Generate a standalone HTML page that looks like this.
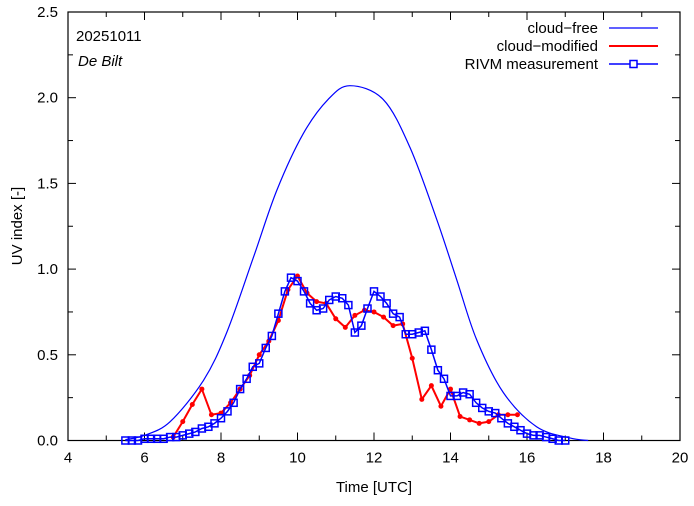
<!DOCTYPE html>
<html><head><meta charset="utf-8"><style>
body{margin:0;background:#fff;position:relative;}
svg text{font-family:"Liberation Sans",sans-serif;font-size:15px;fill:#000;}
</style></head><body>
<svg id="chart" width="694" height="501" xmlns="http://www.w3.org/2000/svg"></svg>
<script>
const measTimes=[5.5,5.67,5.83,6.0,6.17,6.33,6.5,6.67,6.83,7.0,7.17,7.33,7.5,7.67,7.83,8.0,8.17,8.33,8.5,8.67,8.83,9.0,9.17,9.33,9.5,9.67,9.83,10.0,10.17,10.33,10.5,10.67,10.83,11.0,11.17,11.33,11.5,11.67,11.83,12.0,12.17,12.33,12.5,12.67,12.83,13.0,13.17,13.33,13.5,13.67,13.83,14.0,14.17,14.33,14.5,14.67,14.83,15.0,15.17,15.33,15.5,15.67,15.83,16.0,16.17,16.33,16.5,16.67,16.83,17.0];
const measValues=[0,0,0,0.01,0.01,0.01,0.01,0.02,0.02,0.03,0.04,0.05,0.07,0.08,0.10,0.13,0.17,0.22,0.30,0.36,0.43,0.45,0.54,0.61,0.74,0.87,0.95,0.93,0.87,0.80,0.76,0.77,0.82,0.84,0.83,0.79,0.63,0.67,0.77,0.87,0.84,0.80,0.74,0.72,0.62,0.62,0.63,0.64,0.53,0.41,0.36,0.26,0.26,0.28,0.27,0.22,0.19,0.17,0.16,0.13,0.10,0.08,0.06,0.04,0.03,0.03,0.02,0.01,0.0,0.0];
const cloudTimes=[6.75,7.0,7.25,7.5,7.75,8.0,8.25,8.5,8.75,9.0,9.25,9.5,9.75,10.0,10.25,10.5,10.75,11.0,11.25,11.5,11.75,12.0,12.25,12.5,12.75,13.0,13.25,13.5,13.75,14.0,14.25,14.5,14.75,15.0,15.25,15.5,15.75];
const cloudValues=[0.02,0.11,0.21,0.30,0.15,0.16,0.22,0.30,0.38,0.50,0.58,0.70,0.88,0.96,0.86,0.81,0.80,0.71,0.66,0.73,0.76,0.75,0.72,0.67,0.68,0.48,0.24,0.32,0.20,0.30,0.14,0.12,0.10,0.11,0.15,0.15,0.15];
const clearTimes=[5.5,6.0,6.67,7.54,8.15,8.85,9.46,10.15,10.8,11.37,12.24,12.94,13.64,14.16,14.68,15.38,16.25,17.12,17.6];
const clearValues=[0.005,0.03,0.11,0.35,0.63,1.07,1.46,1.79,1.99,2.07,1.99,1.71,1.29,0.94,0.59,0.28,0.08,0.015,0];
const xTicks=[4,6,8,10,12,14,16,18,20];
const yTicks=[0,0.5,1.0,1.5,2.0,2.5];
const L=68,R=680,T=12,B=440.5;
const X=t=>L+(t-4)/16*(R-L);
const Y=v=>B-v/2.5*(B-T);
const svg=document.getElementById('chart');
const NS='http://www.w3.org/2000/svg';
function mk(tag,attrs,parent){const e=document.createElementNS(NS,tag);for(const k in attrs)e.setAttribute(k,attrs[k]);(parent||svg).appendChild(e);return e;}
for(let h=4;h<=20;h++){
  const len=xTicks.includes(h)?8:5;
  const t1=mk('line',{x1:X(h),x2:X(h),y1:B,y2:B-len,stroke:'#000','stroke-width':1});
  
  
  const t2=mk('line',{x1:X(h),x2:X(h),y1:T,y2:T+len,stroke:'#000','stroke-width':1});
  
  
}
xTicks.forEach(v=>{
  const tx=mk('text',{x:X(v),y:B+22,'text-anchor':'middle'});tx.textContent=v;
  
  
});
for(let i=0;i<=10;i++){
  const v=i*0.25;const len=i%2==0?8:5;
  const a=mk('line',{x1:L,x2:L+len,y1:Y(v),y2:Y(v),stroke:'#000'});
  
  
  const b=mk('line',{x1:R,x2:R-len,y1:Y(v),y2:Y(v),stroke:'#000'});
  
  
}
yTicks.forEach(v=>{
  const ty=mk('text',{x:L-10,y:Y(v)+5,'text-anchor':'end'});ty.textContent=v.toFixed(1);
  
  
});
const frame=mk('rect',{x:L,y:T,width:R-L,height:B-T,fill:'none',stroke:'#000','stroke-width':1.2});


let pts=clearTimes.map((t,i)=>[X(t),Y(clearValues[i])]);
let d='M'+pts[0][0]+','+pts[0][1];
for(let i=0;i<pts.length-1;i++){
  const p0=pts[Math.max(0,i-1)],p1=pts[i],p2=pts[i+1],p3=pts[Math.min(pts.length-1,i+2)];
  d+=' C'+(p1[0]+(p2[0]-p0[0])/6)+','+(p1[1]+(p2[1]-p0[1])/6)+' '+(p2[0]-(p3[0]-p1[0])/6)+','+(p2[1]-(p3[1]-p1[1])/6)+' '+p2[0]+','+p2[1];
}
const cf=mk('path',{d:d,fill:'none',stroke:'#0000ff','stroke-width':1.2});


const cm=mk('polyline',{points:cloudTimes.map((t,i)=>X(t)+','+Y(cloudValues[i])).join(' '),fill:'none',stroke:'#ff0000','stroke-width':2});


cloudTimes.forEach((t,i)=>{
  const c=mk('circle',{cx:X(t),cy:Y(cloudValues[i]),r:2.5,fill:'#ff0000'});
  
  
});
const ml=mk('polyline',{points:measTimes.map((t,i)=>X(t)+','+Y(measValues[i])).join(' '),fill:'none',stroke:'#0000ff','stroke-width':1.5});


measTimes.forEach((t,i)=>{
  const s=mk('rect',{x:X(t)-3.5,y:Y(measValues[i])-3.5,width:7,height:7,fill:'none',stroke:'#0000ff','stroke-width':1.5});
  
  
});
</script>
<svg style="position:absolute;left:0;top:0" width="694" height="501" xmlns="http://www.w3.org/2000/svg">
<text x="76" y="41">20251011</text>
<text x="78" y="66" font-style="italic">De Bilt</text>
<g>
<text x="598" y="33" text-anchor="end">cloud−free</text>
<line x1="609" x2="658" y1="28" y2="28" stroke="#0000ff" stroke-width="1.2"/>
<text x="598" y="51" text-anchor="end">cloud−modified</text>
<line x1="609" x2="658" y1="46" y2="46" stroke="#ff0000" stroke-width="2"/>
<text x="598" y="69" text-anchor="end">RIVM measurement</text>
<line x1="609" x2="658" y1="64" y2="64" stroke="#0000ff" stroke-width="1.5"/>
<rect x="630" y="60.5" width="7" height="7" fill="#fff" stroke="#0000ff" stroke-width="1.5"/>
</g>
<text x="374" y="492" text-anchor="middle">Time  [UTC]</text>
<text x="0" y="0" transform="translate(22,226) rotate(-90)" text-anchor="middle">UV index  [-]</text>
</svg>
</body></html>
